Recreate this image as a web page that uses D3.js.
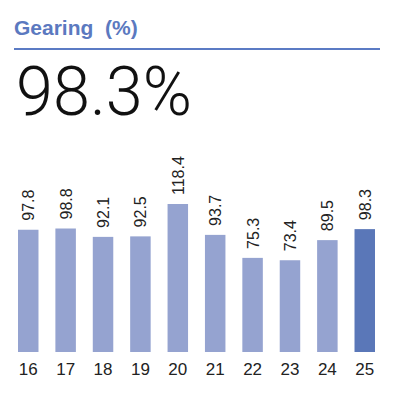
<!DOCTYPE html>
<html>
<head>
<meta charset="utf-8">
<script src="https://cdn.jsdelivr.net/npm/d3@7"></script>
<style>
  body { margin: 0; background: #fff; }
  svg { display: block; font-family: "Liberation Sans", Arial, sans-serif; }
</style>
</head>
<body>
<svg id="chart" width="394" height="395"></svg>
<script>
// data
const years = ["16", "17", "18", "19", "20", "21", "22", "23", "24", "25"];
const gearing = [97.8, 98.8, 92.1, 92.5, 118.4, 93.7, 75.3, 73.4, 89.5, 98.3];
const headline = "98.3%";
const title = "Gearing\u00a0\u00a0(%)";

const svg = d3.select("#chart");
const lightBlue = "#95a3d0";
const darkBlue = "#5a77b8";

// header
svg.append("text")
    .attr("x", 14)
    .attr("y", 35)
    .style("font-size", "21px")
    .style("font-weight", "bold")
    .style("fill", "#5b79c0")
    .text(title);

svg.append("line")
    .attr("x1", 14).attr("x2", 380)
    .attr("y1", 49).attr("y2", 49)
    .attr("stroke", "#5b7bc4")
    .attr("stroke-width", 2);

svg.append("text")
    .attr("x", 16)
    .attr("y", 115)
    .attr("textLength", 176)
    .attr("lengthAdjust", "spacingAndGlyphs")
    .style("font-family", "Roboto, Inter, sans-serif")
    .style("font-weight", 300)
    .style("font-size", "69px")
    .style("fill", "#111")
    .text(headline);

// scales
const x = d3.scaleBand()
    .domain(years)
    .range([18, 375])
    .paddingInner(0.452)
    .paddingOuter(0);

const y = d3.scaleLinear()
    .domain([0, 100])
    .range([352, 227]);

const bars = svg.append("g");

bars.selectAll("rect")
    .data(years)
    .enter()
    .append("rect")
    .attr("x", d => x(d))
    .attr("width", x.bandwidth())
    .attr("y", (d, i) => y(gearing[i]))
    .attr("height", (d, i) => y(0) - y(gearing[i]))
    .attr("fill", (d, i) => i === years.length - 1 ? darkBlue : lightBlue);

// value labels
bars.selectAll(".val")
    .data(years)
    .enter()
    .append("text")
    .attr("class", "val")
    .attr("transform", (d, i) => `translate(${x(d) + x.bandwidth() / 2 + 6},${y(gearing[i]) - 9}) rotate(-90)`)
    .style("font-size", "16px")
    .style("fill", "#222")
    .text((d, i) => gearing[i].toFixed(1));

// year axis
const xAxis = svg.append("g")
    .attr("transform", "translate(0,352)")
    .call(d3.axisBottom(x).tickSize(0).tickPadding(11));
xAxis.select(".domain").remove();
xAxis.selectAll("text")
    .style("font-size", "17px")
    .style("font-family", "Liberation Sans, Arial, sans-serif")
    .style("fill", "#222");
</script>
</body>
</html>
